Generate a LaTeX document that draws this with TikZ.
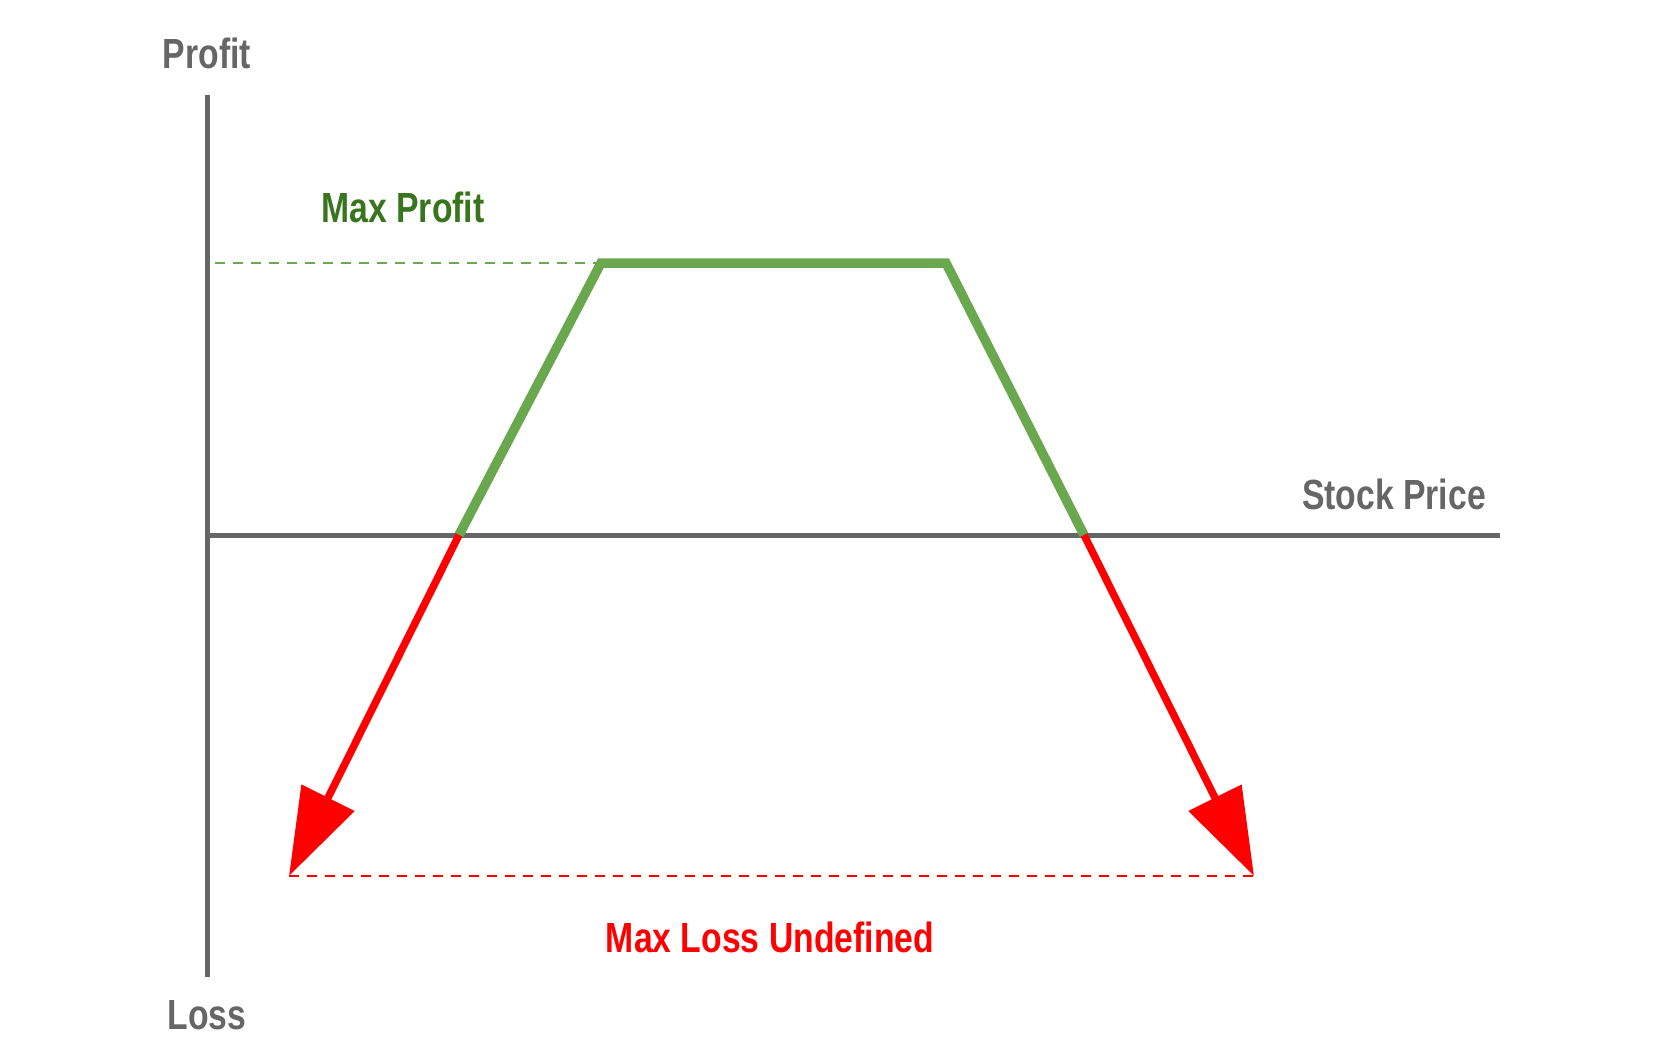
\documentclass[tikz,border=0pt]{standalone}
\usepackage{fontspec}
\usepackage{graphicx}
\setmainfont{Liberation Sans}
\usetikzlibrary{arrows.meta}
\definecolor{axisgray}{HTML}{666666}
\definecolor{pgreen}{HTML}{6AA84F}
\definecolor{dgreen}{HTML}{38761D}
\definecolor{pred}{HTML}{FF0000}
\tikzset{
  lbl/.style={font=\fontsize{24}{28}\selectfont\bfseries, inner sep=0pt},
  axisline/.style={axisgray, line width=0.1cm},
  payoff/.style={pgreen, line width=0.19cm},
  lossarrow/.style={pred, line width=0.15cm, -{Triangle[length=1.75cm,width=1.15cm]}},
}
\newcommand{\nar}[1]{\scalebox{0.8}[1]{#1}}
\begin{document}
\begin{tikzpicture}[x=0.02cm,y=-0.02cm]
\useasboundingbox (0,0) rectangle (1654,1063);
\coordinate (ytop) at (207,95);
\coordinate (ybot) at (207,977);
\coordinate (xl) at (209,535);
\coordinate (xr) at (1500,535);
\coordinate (b1) at (459,535);
\coordinate (p1) at (601,263);
\coordinate (p2) at (946,263);
\coordinate (b2) at (1084,535);
\coordinate (t1) at (289,876);
\coordinate (t2) at (1254,876);
\coordinate (g0) at (215,263);
\draw[axisline] (ytop) -- (ybot);
\draw[axisline] (xl) -- (xr);
\draw[pgreen, line width=0.05cm, dash pattern=on 0.2cm off 0.16cm] (g0) -- (p1);
\draw[pred, line width=0.05cm, dash pattern=on 0.2cm off 0.16cm] (t1) -- (t2);
\draw[payoff, line join=miter] (b1) -- (p1) -- (p2) -- (b2);
\draw[lossarrow] (b1) -- (t1);
\draw[lossarrow] (b2) -- (t2);
\node[lbl, text=axisgray] (profit) at (207,53) {\nar{Profit}};
\node[lbl, text=axisgray] (loss) at (207,1015) {\nar{Loss}};
\node[lbl, text=axisgray] (stock) at (1394,494) {\nar{Stock Price}};
\node[lbl, text=dgreen] (maxp) at (403,207) {\nar{Max Profit}};
\node[lbl, text=pred] (maxl) at (770,937) {\nar{Max Loss Undefined}};
\end{tikzpicture}
\end{document}
